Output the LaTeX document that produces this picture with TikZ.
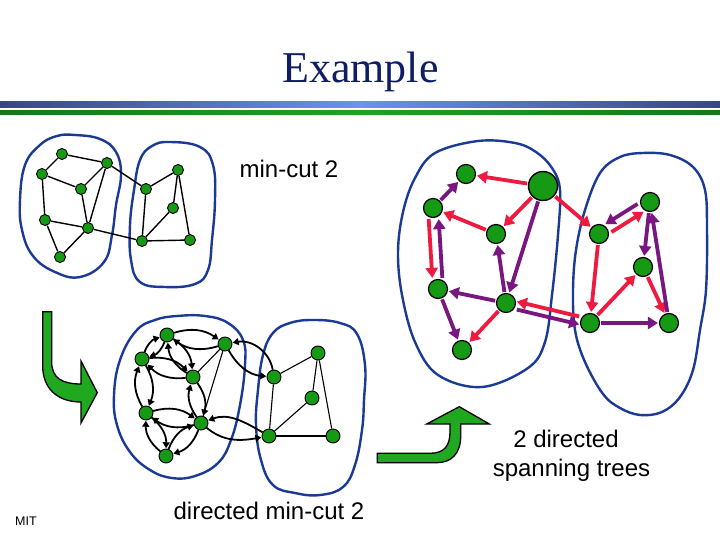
\documentclass[tikz,border=0pt]{standalone}
\usepackage{fontspec}
\setmainfont{Liberation Serif}
\setsansfont{Liberation Sans}
\usetikzlibrary{arrows.meta,calc}
\definecolor{titleblue}{HTML}{0F1E64}
\definecolor{hbA}{HTML}{34497E}
\definecolor{hbB}{HTML}{6A92EE}
\definecolor{hgA}{HTML}{17761A}
\definecolor{hgB}{HTML}{22A024}
\definecolor{nodegreen}{HTML}{169A16}
\definecolor{arrgreen}{HTML}{20A820}
\definecolor{blobblue}{HTML}{1A3A96}
\definecolor{tred}{HTML}{EE1A40}
\definecolor{tpurple}{HTML}{7A1680}
\tikzset{
  vsm/.style={circle, fill=nodegreen, draw=black, line width=0.9pt, inner sep=0pt, minimum size=11pt},
  vmd/.style={circle, fill=nodegreen, draw=black, line width=0.9pt, inner sep=0pt, minimum size=14pt},
  vlg/.style={circle, fill=nodegreen, draw=black, line width=1.2pt, inner sep=0pt, minimum size=19pt},
  vroot/.style={circle, fill=nodegreen, draw=black, line width=1.4pt, inner sep=0pt, minimum size=29pt},
  blob/.style={draw=blobblue, line width=2.4pt},
  uedge/.style={draw=black, line width=1.4pt},
  thinedge/.style={draw=black, line width=1.1pt},
  darr/.style={draw=black, line width=1.8pt, -{Triangle[width=7pt,length=6pt]}, shorten >=0.3pt},
  rarr/.style={draw=tred, line width=3.8pt, -{Triangle[width=12pt,length=10pt]}, shorten >=1pt, shorten <=1pt},
  parr/.style={draw=tpurple, line width=3.8pt, -{Triangle[width=12pt,length=10pt]}, shorten >=1pt, shorten <=1pt},
  bigarrow/.style={fill=arrgreen, draw=black, line width=1.3pt, line join=miter},
  lbl/.style={font=\sffamily\fontsize{24}{28}\selectfont, anchor=base, inner sep=0pt}
}
\begin{document}
\begin{tikzpicture}[x=1pt,y=-1pt]
\useasboundingbox (0,0) rectangle (720,540);
\fill[white] (0,0) rectangle (720,540);
% header
\node[font=\fontsize{44}{50}\selectfont, text=titleblue, anchor=base, inner sep=0pt] (title) at (360.5,82.5) {Example};
\shade[left color=hbA, right color=hbA, middle color=hbB] (0,102) rectangle (720,108);
\shade[left color=hgA, right color=hgA, middle color=hgB] (0,111) rectangle (720,115);

% ---------- top-left undirected graph ----------
\draw[blob] plot[smooth cycle, tension=0.7] coordinates {(75,135) (100,139) (116,152) (121,175) (116,205) (112,235) (104,262) (80,277) (55,272) (33,256) (22,230) (20,200) (25,165) (40,145) (57,136)};
\draw[blob] plot[smooth cycle, tension=0.7] coordinates {(170,142) (200,147) (213,165) (215,200) (212,240) (208,270) (195,284) (165,287) (140,282) (131,260) (130,225) (134,190) (140,160) (152,146)};
\node[vsm] (a1) at (62,154) {};
\node[vsm] (a2) at (107,163) {};
\node[vsm] (a3) at (42,174) {};
\node[vsm] (a4) at (81,189) {};
\node[vsm] (a5) at (45,220) {};
\node[vsm] (a6) at (88,228) {};
\node[vsm] (a7) at (60,257) {};
\node[vsm] (b1) at (146,189) {};
\node[vsm] (b2) at (178,170) {};
\node[vsm] (b3) at (173,208) {};
\node[vsm] (b4) at (142,241) {};
\node[vsm] (b5) at (190,240) {};
\foreach \u/\w in {a1/a2,a1/a3,a3/a4,a2/a4,a2/a6,a4/a6,a3/a5,a5/a6,a5/a7,a6/a7,a2/b1,a6/b4,b1/b2,b1/b4,b2/b3,b2/b5,b3/b4,b4/b5}
  \draw[uedge] (\u) -- (\w);

% ---------- directed graph ----------
\draw[blob] plot[smooth cycle, tension=0.7] coordinates {(177,316) (205,316) (228,323) (243,340) (245,365) (240,405) (231,440) (218,463) (195,476) (172,478) (150,470) (130,452) (117,425) (114,395) (120,360) (136,331) (155,320)};
\draw[blob] plot[smooth cycle, tension=0.7] coordinates {(313,320) (340,323) (357,334) (365,365) (364,400) (362,430) (355,465) (343,487) (320,495) (295,493) (273,485) (261,460) (256,425) (258,390) (263,355) (273,333) (290,323)};
\node[vmd] (c1) at (167,335) {};
\node[vmd] (c2) at (225,344) {};
\node[vmd] (c3) at (142,359) {};
\node[vmd] (c4) at (193,377) {};
\node[vmd] (c5) at (146,413) {};
\node[vmd] (c6) at (201,423) {};
\node[vmd] (c7) at (166,456) {};
\node[vmd] (d1) at (274,377) {};
\node[vmd] (d2) at (318,353) {};
\node[vmd] (d3) at (312,398) {};
\node[vmd] (d4) at (269,436) {};
\node[vmd] (d5) at (333,436) {};
\foreach \u/\w in {c1/c2,c1/c3,c1/c4,c3/c4,c3/c5,c4/c6,c5/c6,c5/c7,c6/c7}{
  \draw[darr] (\u) to[bend left=26] (\w);
  \draw[darr] (\w) to[bend left=26] (\u);
}
\draw[thinedge] (c2) -- (c4);
\draw[thinedge] (c2) -- (c6);
\draw[darr] (c2) to[out=-60, in=175] (d1);
\draw[darr] (d1) to[out=100, in=10] (c2);
\draw[darr] (d4) to[out=150, in=20] (c6);
\draw[darr] (c6) to[out=-40, in=190] (d4);
\foreach \u/\w in {d1/d2,d1/d4,d2/d3,d2/d5,d3/d4,d4/d5}
  \draw[thinedge] (\u) -- (\w);

% ---------- two spanning trees ----------
\draw[blob] plot[smooth cycle, tension=0.6] coordinates {(478,141) (515,143) (536,152) (552,168) (560,190) (558,235) (552,295) (545,342) (528,368) (482,387) (438,375) (415,342) (402,295) (398,252) (403,212) (415,178) (435,153)};
\draw[blob] plot[smooth cycle, tension=0.6] coordinates {(643,153) (670,155) (693,167) (705,190) (707,230) (706,290) (700,330) (693,370) (680,397) (662,412) (640,415) (620,408) (603,394) (585,362) (575,330) (573,290) (576,250) (585,210) (600,173) (620,157)};
\node[vlg] (e1) at (466,174) {};
\node[vroot] (e2) at (543,186) {};
\node[vlg] (e3) at (433,208) {};
\node[vlg] (e4) at (496,234) {};
\node[vlg] (e5) at (438,289) {};
\node[vlg] (e6) at (506,303) {};
\node[vlg] (e7) at (462,350) {};
\node[vlg] (f1) at (599,234) {};
\node[vlg] (f2) at (650,202) {};
\node[vlg] (f3) at (643,267) {};
\node[vlg] (f4) at (590,323) {};
\node[vlg] (f5) at (669,323) {};
% red tree
\draw[rarr] (e2) -- (e1);
\draw[rarr] (e2) -- (e4);
\draw[rarr] (e2) -- (f1);
\draw[rarr] (e4) -- (e3);
\draw[rarr, transform canvas={xshift=-5pt}] (e3) -- (e5);
\draw[rarr, transform canvas={yshift=4pt}] (f4) -- (e6);
\draw[rarr] (e6) -- (e7);
\draw[rarr] (f1) -- (f4);
\draw[rarr] (f4) -- (f3);
\draw[rarr] (f3) -- (f5);
\draw[rarr, transform canvas={xshift=3pt,yshift=-4pt}] (f1) -- (f2);
% purple tree
\draw[parr] (e2) -- (e6);
\draw[parr] (e6) -- (e4);
\draw[parr] (e6) -- (e5);
\draw[parr, transform canvas={xshift=5pt}] (e5) -- (e3);
\draw[parr] (e3) -- (e1);
\draw[parr] (e5) -- (e7);
\draw[parr, transform canvas={yshift=-4pt}] (e6) -- (f4);
\draw[parr] (f4) -- (f5);
\draw[parr] (f5) -- (f2);
\draw[parr] (f2) -- (f3);
\draw[parr, transform canvas={xshift=-3pt,yshift=4pt}] (f2) -- (f1);

% ---------- big green arrows ----------
\path[bigarrow] (42.7,311.7) -- (51.7,311.7) -- (51.7,362) .. controls (51.7,378) and (62,384) .. (81,384) -- (81,361) -- (97.3,392.7) -- (81,423) -- (81,402) .. controls (56,402) and (42.7,387) .. (42.7,366) -- cycle;
\path[bigarrow] (377.3,453.3) -- (430,453.3) .. controls (444,453.3) and (450,446) .. (450,432) -- (450,424) -- (426.7,424) -- (459.3,406.7) -- (489.3,424) -- (460.7,424) -- (460.7,436) .. controls (460.7,454) and (451,462.7) .. (436.7,462.7) -- (377.3,462.7) -- cycle;

% ---------- labels ----------
\node[lbl] (l1) at (289,178) {min-cut 2};
\node[lbl] (l2) at (566,447) {2 directed};
\node[lbl] (l3) at (571.5,476) {spanning trees};
\node[lbl] (l4) at (269,519) {directed min-cut 2};
\node[font=\sffamily\fontsize{12.5}{14}\selectfont, anchor=base, inner sep=0pt] (mit) at (26,525) {MIT};
\end{tikzpicture}
\end{document}
